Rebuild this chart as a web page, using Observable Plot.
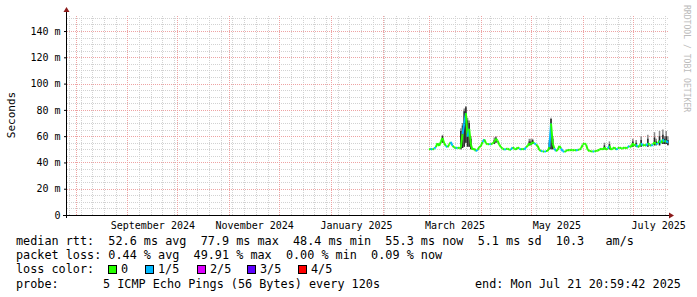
<!DOCTYPE html>
<html><head><meta charset="utf-8">
<script src="https://cdn.jsdelivr.net/npm/d3@7"></script>
<script src="https://cdn.jsdelivr.net/npm/@observablehq/plot@0.6"></script>
<style>
body{margin:0;background:#fff;}
#wrap{position:relative;width:697px;height:297px;overflow:hidden;font-family:"DejaVu Sans Mono",monospace;background:#fff;}
#wrap svg{display:block;}
.lg{position:absolute;font-size:11.8px;line-height:13px;white-space:pre;color:#000;}
.box{position:absolute;width:7px;height:7px;border:1px solid #000;}
.wm{position:absolute;left:682px;top:5px;writing-mode:vertical-rl;font-size:8.1px;line-height:9px;color:#bbbbbb;white-space:pre;}
</style></head><body><div id="wrap"></div>
<script>
// ---- data ----
const lossLabels = ["0", "1/5", "2/5", "3/5", "4/5"];
const lossColors = ["#26ff00", "#00b8ff", "#dd00ff", "#5e00ff", "#ff0000"];
const yTickValues = [0, 20, 40, 60, 80, 100, 120, 140];
const xTickLabels = ["2024-09-16", "2024-11-16", "2025-01-16", "2025-03-16", "2025-05-16", "2025-07-16"];
const firstDay = "2025-02-28", lastDay = "2025-07-21";
// daily median rtt (ms)
const medianMs = [
  50, 51, 50, 51, 52, 55, 53, 56, 59, 55,
  53, 52, 54, 56, 53, 52, 51, 52, 51, 52,
  62, 70, 77.9, 60, 66, 54, 50, 51, 49, 50,
  52, 53, 56, 58, 55, 54, 54.5, 54, 55, 56,
  58.5, 57, 54, 52, 51, 50, 50.5, 51, 50, 50,
  52, 51, 50, 52, 51, 50, 51, 50, 52, 53,
  55, 54, 56, 55, 54, 53, 50, 49, 49, 48.4,
  49, 49, 52, 70, 55, 51, 49, 50, 53, 51,
  49, 48.4, 49, 50, 49.5, 50, 49.5, 50, 49.5, 50,
  50, 51, 54, 55, 54, 50, 49, 49, 48.5, 49,
  49, 49.5, 50, 51, 50, 52, 50, 51, 53, 50,
  51, 52, 50, 51, 52, 51, 51, 52, 51, 52,
  53, 52, 55, 53, 54, 52, 53, 55, 53, 54,
  53, 55, 54, 53, 54, 56, 54, 55, 57, 55,
  58, 56, 57, 55.3
];
// daily loss level (number of lost pings out of 5)
const lossLevel = [
  0,0,1,0,1,0,0,0,0,0,
  0,1,0,0,1,0,0,1,0,0,
  0,1,1,0,1,0,0,0,0,1,
  0,0,0,1,0,0,0,1,0,0,
  0,0,0,0,0,0,1,0,0,0,
  1,0,0,0,0,1,0,0,1,0,
  0,0,0,0,1,0,0,0,1,0,
  1,0,0,1,0,0,1,0,0,0,
  1,1,0,0,0,0,0,0,0,1,
  0,0,0,0,0,0,0,0,0,1,
  0,0,0,0,0,0,0,0,1,0,
  0,0,0,1,0,0,0,0,0,0,
  1,0,0,0,0,1,0,0,1,0,
  0,1,0,0,1,0,0,1,0,1,
  0,1,0,1
];
// visible smoke (ping spread) on some days
const smokeDates = ["2025-03-08","2025-03-19","2025-03-20","2025-03-21","2025-03-22","2025-03-23","2025-03-24","2025-03-25",
  "2025-04-08","2025-04-09","2025-04-29","2025-04-30","2025-05-01","2025-05-11","2025-05-12","2025-05-13",
  "2025-06-13","2025-06-16","2025-06-30","2025-07-02","2025-07-05","2025-07-09","2025-07-13","2025-07-14",
  "2025-07-16","2025-07-18","2025-07-19","2025-07-20","2025-07-21"];
const smokeLow   = [55, 50, 51, 52, 55, 52, 52, 50, 54, 55, 53, 53, 54, 50, 50, 50, 50, 50, 52, 52, 52, 52, 53, 53, 53, 54, 54, 54, 53];
const smokeInner = [60, 64, 68, 79, 82, 72, 70, 58, 57, 59, 56, 56, 57, 55, 73, 58, 53, 54, 56, 55, 57, 58, 59, 56, 60, 61, 58, 60, 57];
const smokeOuter = [61, 66, 70, 81, 83, 74, 72, 60, 59, 60, 58, 58, 58, 57, 74, 60, 55, 56, 58, 57, 60, 61, 63, 58, 64, 65, 60, 64, 60];
const legendRtt = "median rtt:  52.6 ms avg  77.9 ms max  48.4 ms min  55.3 ms now  5.1 ms sd  10.3   am/s";
const legendLoss = "packet loss: 0.44 % avg  49.91 % max  0.00 % min  0.09 % now";
const probeText = "5 ICMP Echo Pings (56 Bytes) every 120s";
const endText = "end: Mon Jul 21 20:59:42 2025";
const watermark = "RRDTOOL / TOBI OETIKER";

// ---- build ----
const noon = s => new Date(s + "T12:00:00Z");
const x0 = new Date(Date.UTC(2024, 6, 26, 21)), x1 = new Date(Date.UTC(2025, 6, 21, 21));
const days = d3.utcDay.range(new Date(firstDay + "T00:00:00Z"), d3.utcDay.offset(new Date(lastDay + "T00:00:00Z"), 1)).map(d => d3.utcHour.offset(d, 12));
const series = days.map((d, i) => ({date: d, median: medianMs[i], loss: lossLevel[i]}));
const segs = series.slice(1).map((d, i) => ({a: series[i], b: d}));
const smoke = smokeDates.map((s, i) => ({date: noon(s), lo: smokeLow[i], inner: smokeInner[i], outer: smokeOuter[i]}));
const months = d3.utcMonth.range(x0, x1);
const weeks = d3.utcSunday.range(x0, x1).filter(d => d.getUTCDate() !== 1);
const majorY = yTickValues.filter(v => v > 0);
const minorY = d3.range(5, 152, 5).filter(v => v % 20 !== 0);
const gray = "#d2d2d2", red = "#eea3a3";

const chart = Plot.plot({
  width: 697, height: 233,
  marginLeft: 67, marginRight: 29, marginTop: 15, marginBottom: 18,
  style: {fontFamily: "DejaVu Sans Mono, monospace", fontSize: "10px", background: "#fff", overflow: "visible", color: "#000"},
  x: {type: "utc", domain: [x0, x1], ticks: xTickLabels.map(s => new Date(s + "T00:00:00Z")), tickFormat: d3.utcFormat("%B %Y"), tickSize: 0, tickPadding: 6, label: null},
  y: {domain: [0, 152.2], ticks: yTickValues, tickFormat: d => d === 0 ? "0" : d + " m", tickSize: 3, tickPadding: 4, label: null},
  color: {type: "ordinal", domain: [0, 1, 2, 3, 4], range: lossColors},
  marks: [
    Plot.ruleY(minorY, {stroke: gray, strokeDasharray: "1,1", shapeRendering: "crispEdges"}),
    Plot.ruleX(weeks, {stroke: gray, strokeDasharray: "1,1", shapeRendering: "crispEdges", y1: 0, y2: 152.2}),
    Plot.ruleX(months, {stroke: red, strokeDasharray: "1,1", shapeRendering: "crispEdges", y1: 0, y2: 152.2}),
    Plot.ruleY(majorY, {stroke: red, strokeDasharray: "1,1", shapeRendering: "crispEdges"}),
    Plot.ruleX(smoke, {x: "date", y1: "lo", y2: "outer", stroke: "#8a8a8a", strokeWidth: 1.5}),
    Plot.ruleX(smoke, {x: "date", y1: "lo", y2: "inner", stroke: "#2a2a2a", strokeWidth: 1.5}),
    Plot.link(segs, {x1: d => d.a.date, y1: d => d.a.median, x2: d => d.b.date, y2: d => d.b.median, stroke: d => d.b.loss, strokeWidth: 2})
  ]
});

const wrap = document.getElementById("wrap");
wrap.appendChild(chart);

// axes, arrows and the y title, placed with the plot's scales
const svg = d3.select(chart);
const [L, R] = chart.scale("x").range;
const [B, T] = chart.scale("y").range;
const axisCol = "#000", arrowCol = "#8b1a1a";
svg.append("line").attr("x1", L - 4).attr("x2", R + 1).attr("y1", B + 0.5).attr("y2", B + 0.5).attr("stroke", axisCol).attr("shape-rendering", "crispEdges");
svg.append("line").attr("x1", L - 0.5).attr("x2", L - 0.5).attr("y1", B + 3).attr("y2", T - 3).attr("stroke", axisCol).attr("shape-rendering", "crispEdges");
svg.append("path").attr("d", `M${R + 1},${B - 2.5}L${R + 6},${B + 0.5}L${R + 1},${B + 3.5}Z`).attr("fill", arrowCol);
svg.append("path").attr("d", `M${L - 3.5},${T - 3}L${L - 0.5},${T - 8}L${L + 2.5},${T - 3}Z`).attr("fill", arrowCol);
svg.append("text").text("Seconds").attr("transform", `translate(15,${(B + T) / 2}) rotate(-90)`)
  .attr("text-anchor", "middle").attr("font-family", "DejaVu Sans Mono").attr("font-size", 11).attr("fill", "#000");

// watermark
const wm = document.createElement("div");
wm.className = "wm"; wm.textContent = watermark; wrap.appendChild(wm);

// legend (text rows below the svg)
function put(x, y, txt) {
  const s = document.createElement("div");
  s.className = "lg"; s.style.left = x + "px"; s.style.top = (y - 6.5) + "px"; s.textContent = txt;
  wrap.appendChild(s);
}
const rows = [241, 255, 269, 284];
put(16, rows[0], legendRtt);
put(16, rows[1], legendLoss);
put(16, rows[2], "loss color:");
[108, 145, 197, 247, 298].forEach((x, i) => {
  const b = document.createElement("div");
  b.className = "box"; b.style.left = x + "px"; b.style.top = (rows[2] - 4.5) + "px"; b.style.background = lossColors[i];
  wrap.appendChild(b);
  put(x + 13, rows[2], lossLabels[i]);
});
put(16, rows[3], "probe:");
put(103, rows[3], probeText);
put(475, rows[3], endText);
</script></body></html>
